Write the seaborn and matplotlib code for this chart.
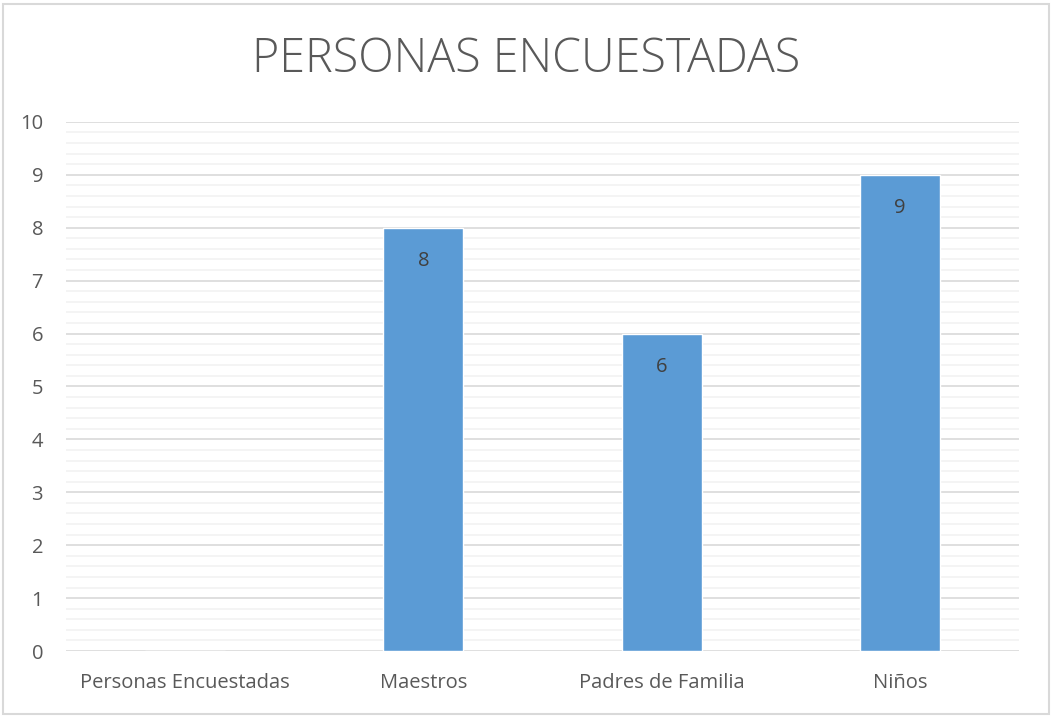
import numpy as np
import pandas as pd
import matplotlib.pyplot as plt
import seaborn as sns
from matplotlib.ticker import MultipleLocator

# Datos del gráfico
categorias = ['Personas Encuestadas', 'Maestros', 'Padres de Familia', 'Niños']
valores = [0, 8, 6, 9]
etiquetas = ['', '8', '6', '9']

df = pd.DataFrame({'Categoria': categorias, 'Valor': valores})

sns.set_theme(style='white')
plt.rcParams['font.family'] = ['Open Sans', 'DejaVu Sans']

gris = '#595959'
fig = plt.figure(figsize=(10.52, 7.17), dpi=100)
ax = fig.add_axes([0.0627, 0.092, 0.906, 0.738])

sns.barplot(data=df, x='Categoria', y='Valor', order=categorias,
            color='#5B9BD5', saturation=1, width=0.336, ax=ax, zorder=3)

ax.bar_label(ax.containers[0], labels=etiquetas, padding=-31,
             fontsize=14.5, color='#404040')

ax.set_ylim(0, 10)
ax.yaxis.set_major_locator(MultipleLocator(1))
ax.yaxis.set_minor_locator(MultipleLocator(0.2))
ax.grid(which='major', axis='y', color='#D9D9D9', linewidth=1.2, zorder=0)
ax.grid(which='minor', axis='y', color='#F2F2F2', linewidth=1.2, zorder=0)
ax.set_axisbelow(True)
for s in ax.spines.values():
    s.set_visible(False)
ax.tick_params(axis='both', which='both', length=0, colors=gris, labelsize=14.5)
ax.tick_params(axis='y', pad=16.5)
ax.tick_params(axis='x', pad=16)
ax.set_xlabel('')
ax.set_ylabel('')

fig.text(0.5, 0.917, 'PERSONAS ENCUESTADAS', ha='center', va='center',
         fontsize=33.5, color=gris, fontweight='light')

# marco del gráfico
fig.patches.append(plt.Rectangle((0.003, 0.004), 0.994, 0.99, transform=fig.transFigure,
                                 fill=False, edgecolor='#D9D9D9', linewidth=1.5))

plt.savefig('out.png', dpi=100)
